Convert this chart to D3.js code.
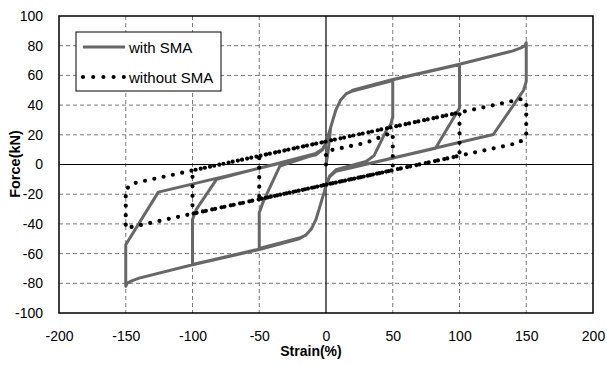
<!DOCTYPE html>
<html lang="en">
<head>
<meta charset="utf-8">
<title>Force - Strain hysteresis</title>
<style>
  body { margin: 0; background: #fff; }
  text { font-family: "Liberation Sans", Arial, sans-serif; fill: #000; }
  .title { font-size: 14px; font-weight: bold; }
  .legend text { font-size: 15px; }
</style>
<script src="https://cdnjs.cloudflare.com/ajax/libs/d3/7.8.5/d3.min.js"></script>
</head>
<body>
<svg width="607" height="365"></svg>
<script>
// ticks
const xTicks = [-200, -150, -100, -50, 0, 50, 100, 150, 200];
const yTicks = [-100, -80, -60, -40, -20, 0, 20, 40, 60, 80, 100];

// with SMA: [strain %, force kN] (cycles at 50, 100, 150 %)
const withSMA = [
  [0, 0], [1.5, 8], [3.5, 25], [7.5, 37], [11, 43.5], [15, 47.5], [20, 49.5], [50, 56.5],
  [50, 32], [48.5, 27], [45.5, 23.5], [36, 6], [30, 2], [7.5, -3.5], [2.5, -8], [0, -14.6],
  [-3.5, -25], [-7.5, -37], [-11, -43.5], [-15, -47.5], [-20, -49.5], [-50, -56.5],
  [-50, -32.5], [-47, -25], [-34.5, -1], [-7.5, 7], [-2.5, 10], [0, 14.6],
  [3.5, 25], [7.5, 37], [11, 43.5], [15, 47.5], [20, 49.8], [50, 57], [100, 67.3],
  [100, 38], [94, 29], [82, 11], [7.5, -4.5], [2.5, -8.5], [0, -14.6],
  [-3.5, -25], [-7.5, -37], [-11, -43.5], [-15, -47.5], [-20, -49.8], [-50, -57], [-100, -67.3],
  [-100, -37], [-97, -30], [-82, -10], [-7.5, 7.5], [-2.5, 10.5], [0, 14.6],
  [3.5, 25], [7.5, 37], [11, 43.5], [15, 47.5], [20, 50], [50, 57.3], [100, 67.5],
  [140, 76.5], [146, 78.5], [149, 80], [150, 82],
  [150, 56], [148, 50], [145, 46], [125.3, 20.2], [7.5, -4.5], [2.5, -8.5], [0, -14.6],
  [-3.5, -25], [-7.5, -37], [-11, -43.5], [-15, -47.5], [-20, -50], [-50, -57.3], [-100, -67.5],
  [-140, -76.5], [-146, -78.5], [-149, -80], [-150, -82],
  [-150, -54], [-125.6, -18.6], [-7.5, 6.5], [-2.5, 10], [0, 14.6]
];

// without SMA
const withoutSMA = [
  [0, 0], [0, 8], [3, 9.5], [30, 14.6], [48, 21], [50, 21], [50, -1], [47, -4.4],
  [-50, -23.4], [-50, 5.8], [100, 35], [100, 5.9], [-100, -33.1], [-100, -4],
  [146, 44], [150, 42], [150, 20], [145, 14.7], [-150, -42.9], [-150, -17],
  [-145, -12.8], [0, 15.5]
];

const svg = d3.select("svg"),
    margin = {left: 59, right: 14, top: 16, bottom: 52},
    width = +svg.attr("width") - margin.left - margin.right,
    height = +svg.attr("height") - margin.top - margin.bottom,
    g = svg.append("g").attr("transform", `translate(${margin.left},${margin.top})`);

const x = d3.scaleLinear().domain([-200, 200]).range([0, width]);
const y = d3.scaleLinear().domain([-100, 100]).range([height, 0]);

// gridlines
g.append("g").selectAll("line")
  .data(xTicks.filter(d => d !== 0 && Math.abs(d) !== 200))
  .join("line")
  .attr("x1", d => x(d)).attr("x2", d => x(d))
  .attr("y1", 0).attr("y2", height)
  .attr("stroke", "#7a7a7a").attr("stroke-dasharray", "4,3");
g.append("g").selectAll("line")
  .data(yTicks.filter(d => d !== 0 && Math.abs(d) !== 100))
  .join("line")
  .attr("y1", d => y(d)).attr("y2", d => y(d))
  .attr("x1", 0).attr("x2", width)
  .attr("stroke", "#7a7a7a").attr("stroke-dasharray", "4,3");

// zero lines
g.append("line").attr("x1", x(0)).attr("x2", x(0)).attr("y1", 0).attr("y2", height)
  .attr("stroke", "#000").attr("stroke-width", 1.2);
g.append("line").attr("y1", y(0)).attr("y2", y(0)).attr("x1", 0).attr("x2", width)
  .attr("stroke", "#000").attr("stroke-width", 1.2);

// axes (labels only), plain hyphen minus like the original
const xAxis = g.append("g").attr("transform", `translate(0,${height})`)
  .call(d3.axisBottom(x).tickValues(xTicks).tickFormat(d => String(d)).tickSize(0).tickPadding(18));
const yAxis = g.append("g")
  .call(d3.axisLeft(y).tickValues(yTicks).tickFormat(d => String(d)).tickSize(0).tickPadding(16));
[xAxis, yAxis].forEach(a => {
  a.select(".domain").remove();
  a.selectAll("text").attr("font-family", "Liberation Sans, Arial, sans-serif").attr("font-size", 14);
});

const line = d3.line().x(d => x(d[0])).y(d => y(d[1]));

g.append("path").datum(withSMA)
  .attr("d", line)
  .attr("fill", "none").attr("stroke", "#676767").attr("stroke-width", 3)
  .attr("stroke-linejoin", "round");

g.append("path").datum(withoutSMA)
  .attr("d", line)
  .attr("fill", "none").attr("stroke", "#000").attr("stroke-width", 4.2)
  .attr("stroke-linecap", "round").attr("stroke-dasharray", "0 9.5");

// plot border
g.append("rect").attr("width", width).attr("height", height)
  .attr("fill", "none").attr("stroke", "#000").attr("stroke-width", 1.5);

// legend
const lg = svg.append("g").attr("class", "legend").attr("transform", "translate(76,32)");
lg.append("rect").attr("width", 145).attr("height", 59)
  .attr("fill", "#fff").attr("stroke", "#000").attr("stroke-width", 1);
lg.append("line").attr("x1", 7).attr("x2", 49).attr("y1", 15).attr("y2", 15)
  .attr("stroke", "#676767").attr("stroke-width", 3);
lg.append("line").attr("x1", 7).attr("x2", 48).attr("y1", 45).attr("y2", 45)
  .attr("stroke", "#000").attr("stroke-width", 4.2)
  .attr("stroke-linecap", "round").attr("stroke-dasharray", "0 10.2");
lg.append("text").attr("x", 53).attr("y", 20.5).text("with SMA");
lg.append("text").attr("x", 53).attr("y", 50.5).text("without SMA");

// axis titles
svg.append("text").attr("class", "title")
  .attr("x", 311).attr("y", 356).attr("text-anchor", "middle").text("Strain(%)");
svg.append("text").attr("class", "title")
  .attr("transform", "translate(20,164) rotate(-90)")
  .attr("text-anchor", "middle").style("font-size", "14.5px").text("Force(kN)");
</script>
</body>
</html>
